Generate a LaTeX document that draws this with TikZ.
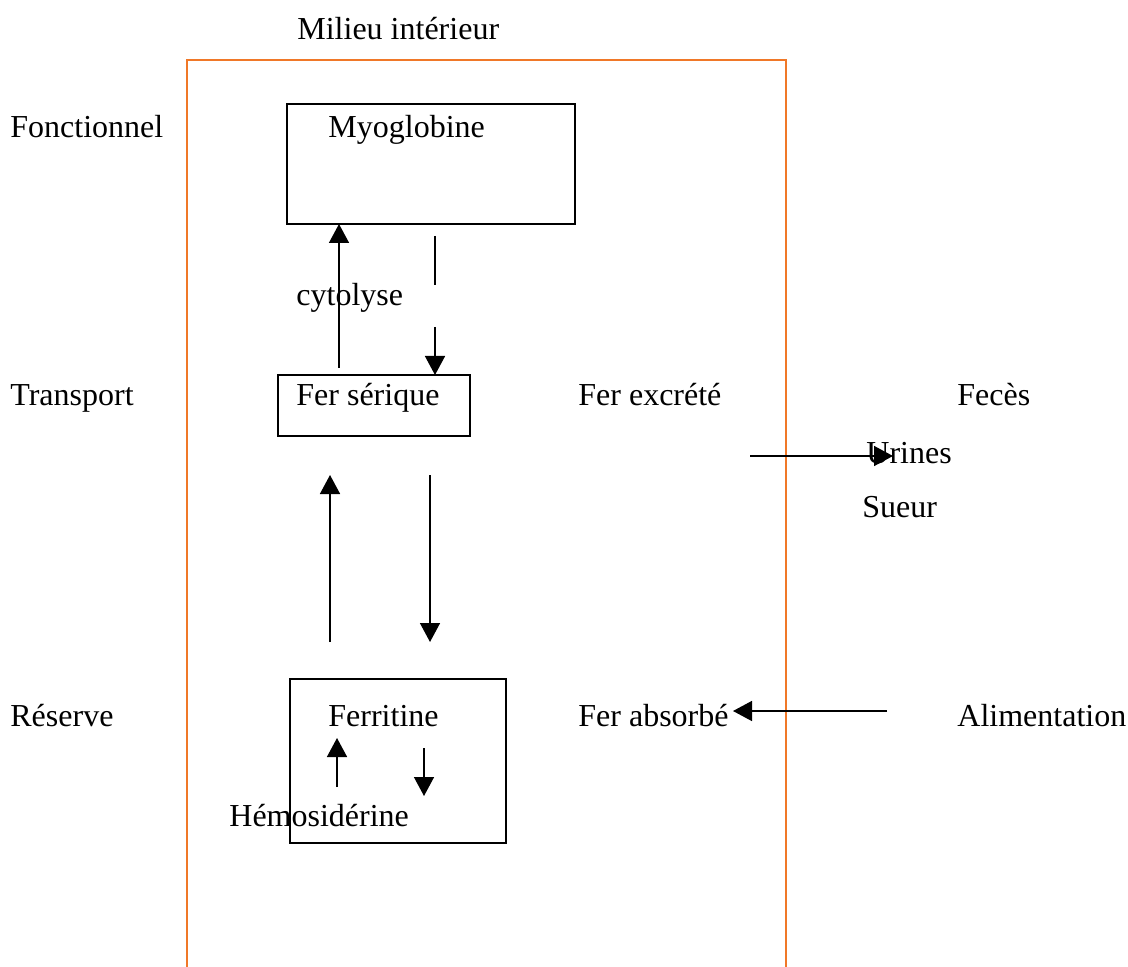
\documentclass[tikz,border=0pt]{standalone}
\usepackage{fontspec}
\setmainfont{Liberation Serif}
\usetikzlibrary{arrows.meta}
\definecolor{frameorange}{RGB}{240,120,40}
\tikzset{
  lbl/.style={anchor=base west, inner sep=0pt, font=\fontsize{16}{19}\selectfont},
  boxx/.style={draw, line width=0.7pt},
  arr/.style={line width=0.75pt, -{Triangle[length=9.5pt,width=10pt]}},
  plain/.style={line width=0.75pt}
}
\begin{document}
\begin{tikzpicture}[x=0.5pt,y=-0.5pt]
\useasboundingbox (0,0) rectangle (1128,967);
% orange frame
\draw[frameorange, line width=1pt] (187,967) -- (187,60) -- (786,60) -- (786,967);
% boxes
\draw[boxx] (287,104) rectangle (575,224);
\draw[boxx] (278,375) rectangle (470,436);
\draw[boxx] (290,679) rectangle (506,843);
% labels
\node[lbl] (milieu) at (297,40) {Milieu intérieur};
\node[lbl] (fonct) at (10,138) {Fonctionnel};
\node[lbl] (transp) at (10,406) {Transport};
\node[lbl] (reserve) at (10,726) {Réserve};
\node[lbl] (myo) at (328,138) {Myoglobine};
\node[lbl] (cyto) at (296,306) {cytolyse};
\node[lbl] (fers) at (296,406) {Fer sérique};
\node[lbl] (ferex) at (578,406) {Fer excrété};
\node[lbl] (feces) at (957,406) {Fecès};
\node[lbl] (urines) at (866,463) {Urines};
\node[lbl] (sueur) at (862,517) {Sueur};
\node[lbl] (ferrit) at (328,726) {Ferritine};
\node[lbl] (ferab) at (578,726) {Fer absorbé};
\node[lbl] (alim) at (957,726) {Alimentation};
\node[lbl] (hemo) at (229,826) {Hémosidérine};
% coordinates
\coordinate (c1a) at (339,368); \coordinate (c1b) at (339,224);
\coordinate (d1a) at (435,236); \coordinate (d1b) at (435,285);
\coordinate (d2a) at (435,327); \coordinate (d2b) at (435,375);
\coordinate (u1a) at (330,642); \coordinate (u1b) at (330,475);
\coordinate (w1a) at (430,475); \coordinate (w1b) at (430,642);
\coordinate (exa) at (750,456); \coordinate (exb) at (893,456);
\coordinate (aba) at (887,711); \coordinate (abb) at (733,711);
\coordinate (s1a) at (337,787); \coordinate (s1b) at (337,738);
\coordinate (s2a) at (424,748); \coordinate (s2b) at (424,796);
% arrows
\draw[arr] (c1a) -- (c1b);
\draw[plain] (d1a) -- (d1b);
\draw[arr] (d2a) -- (d2b);
\draw[arr] (u1a) -- (u1b);
\draw[arr] (w1a) -- (w1b);
\draw[arr] (exa) -- (exb);
\draw[arr] (aba) -- (abb);
\draw[arr] (s1a) -- (s1b);
\draw[arr] (s2a) -- (s2b);
\end{tikzpicture}
\end{document}
